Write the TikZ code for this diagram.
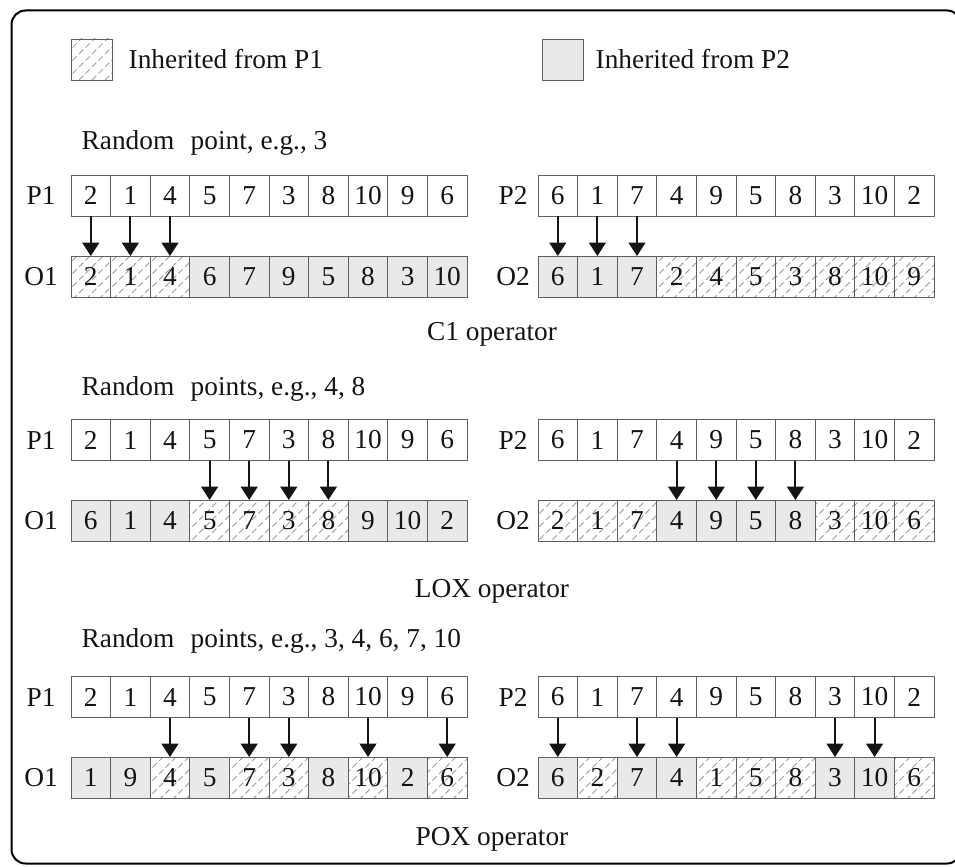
\documentclass[tikz,border=0pt]{standalone}
\usepackage{fontspec}
\setmainfont{Liberation Serif}
\usetikzlibrary{arrows.meta,positioning,patterns.meta}
\definecolor{ink}{RGB}{20,20,20}
\definecolor{edge}{RGB}{95,95,95}
\tikzdeclarepattern{
  name=dashhatch,
  type=uncolored,
  bounding box={(0pt,0pt) and (10pt,10pt)},
  tile size={(10pt,10pt)},
  code={\draw[line width=0.6pt,dash pattern=on 4.7pt off 2.37pt] (0pt,0pt) -- (10pt,10pt);}
}
\tikzset{
  cell/.style={draw=edge,line width=0.6pt,outer sep=0pt,inner sep=0pt,
    minimum width=29.7pt,minimum height=30.75pt},
  plain/.style={cell,fill=white},
  fromA/.style={cell,pattern=dashhatch,pattern color=gray!80},
  fromB/.style={cell,fill=gray!17},
  keybox/.style={minimum width=30.75pt},
  arr/.style={-{Triangle[length=10pt,width=12.5pt]},line width=1.6pt,ink},
  tag/.style={anchor=base west},
}
% one chromosome: name, left x, centre y, value/style list
\newcommand{\generow}[4]{%
  \foreach \v/\s [count=\i] in {#4}
    \node[\s] (#1-\i) at ({#2+39.6*\i-19.8},#3) {\v};}

\begin{document}
\begin{tikzpicture}[x=0.75pt,y=-0.75pt,font=\fontsize{20.5}{24}\selectfont,text=ink]
\useasboundingbox (0,0) rectangle (955,866);
\draw[line width=1.5pt,rounded corners=10.5pt] (11.5,10.5) rectangle (961,863.5);

% legend
\node[fromA,keybox] (keyA) at (91.5,59.5) {};
\node[tag] (keyAtxt) at (124,69) {Inherited from P1};
\node[fromB,keybox] (keyB) at (562.5,59.5) {};
\node[tag] (keyBtxt) at (591,69) {Inherited from P2};

% C1
\node[tag] (c1txt) at (77,150) {Random\hspace{0.6em}point, e.g., 3};
\node (g1lp) at (41,195.5) {P1};
\node (g1lo) at (41,276.5) {O1};
\node (g1rp) at (513,195.5) {P2};
\node (g1ro) at (513,276.5) {O2};
\generow{g1p1}{71}{195.5}{2/plain,1/plain,4/plain,5/plain,7/plain,3/plain,8/plain,10/plain,9/plain,6/plain}
\generow{g1o1}{71}{276.5}{2/fromA,1/fromA,4/fromA,6/fromB,7/fromB,9/fromB,5/fromB,8/fromB,3/fromB,10/fromB}
\generow{g1p2}{538}{195.5}{6/plain,1/plain,7/plain,4/plain,9/plain,5/plain,8/plain,3/plain,10/plain,2/plain}
\generow{g1o2}{538}{276.5}{6/fromB,1/fromB,7/fromB,2/fromA,4/fromA,5/fromA,3/fromA,8/fromA,10/fromA,9/fromA}
\foreach \i in {1,2,3} {
  \draw[arr] (g1p1-\i.south) -- (g1o1-\i.north);
  \draw[arr] (g1p2-\i.south) -- (g1o2-\i.north);
}
\node[anchor=base] (c1op) at (492,340) {C1 operator};

% LOX
\node[tag] (loxtxt) at (77,395) {Random\hspace{0.6em}points, e.g., 4, 8};
\node (g2lp) at (41,440) {P1};
\node (g2lo) at (41,520.5) {O1};
\node (g2rp) at (513,440) {P2};
\node (g2ro) at (513,520.5) {O2};
\generow{g2p1}{71}{440}{2/plain,1/plain,4/plain,5/plain,7/plain,3/plain,8/plain,10/plain,9/plain,6/plain}
\generow{g2o1}{71}{520.5}{6/fromB,1/fromB,4/fromB,5/fromA,7/fromA,3/fromA,8/fromA,9/fromB,10/fromB,2/fromB}
\generow{g2p2}{538}{440}{6/plain,1/plain,7/plain,4/plain,9/plain,5/plain,8/plain,3/plain,10/plain,2/plain}
\generow{g2o2}{538}{520.5}{2/fromA,1/fromA,7/fromA,4/fromB,9/fromB,5/fromB,8/fromB,3/fromA,10/fromA,6/fromA}
\foreach \i in {4,5,6,7} {
  \draw[arr] (g2p1-\i.south) -- (g2o1-\i.north);
  \draw[arr] (g2p2-\i.south) -- (g2o2-\i.north);
}
\node[anchor=base] (loxop) at (492,597) {LOX operator};

% POX
\node[tag] (poxtxt) at (77,647) {Random\hspace{0.6em}points, e.g., 3, 4, 6, 7, 10};
\node (g3lp) at (41,697) {P1};
\node (g3lo) at (41,777.5) {O1};
\node (g3rp) at (513,697) {P2};
\node (g3ro) at (513,777.5) {O2};
\generow{g3p1}{71}{697}{2/plain,1/plain,4/plain,5/plain,7/plain,3/plain,8/plain,10/plain,9/plain,6/plain}
\generow{g3o1}{71}{777.5}{1/fromB,9/fromB,4/fromA,5/fromB,7/fromA,3/fromA,8/fromB,10/fromA,2/fromB,6/fromA}
\generow{g3p2}{538}{697}{6/plain,1/plain,7/plain,4/plain,9/plain,5/plain,8/plain,3/plain,10/plain,2/plain}
\generow{g3o2}{538}{777.5}{6/fromB,2/fromA,7/fromB,4/fromB,1/fromA,5/fromA,8/fromA,3/fromB,10/fromB,6/fromA}
\foreach \i in {3,5,6,8,10}
  \draw[arr] (g3p1-\i.south) -- (g3o1-\i.north);
\foreach \i in {1,3,4,8,9}
  \draw[arr] (g3p2-\i.south) -- (g3o2-\i.north);
\node[anchor=base] (poxop) at (492,845) {POX operator};
\end{tikzpicture}
\end{document}
